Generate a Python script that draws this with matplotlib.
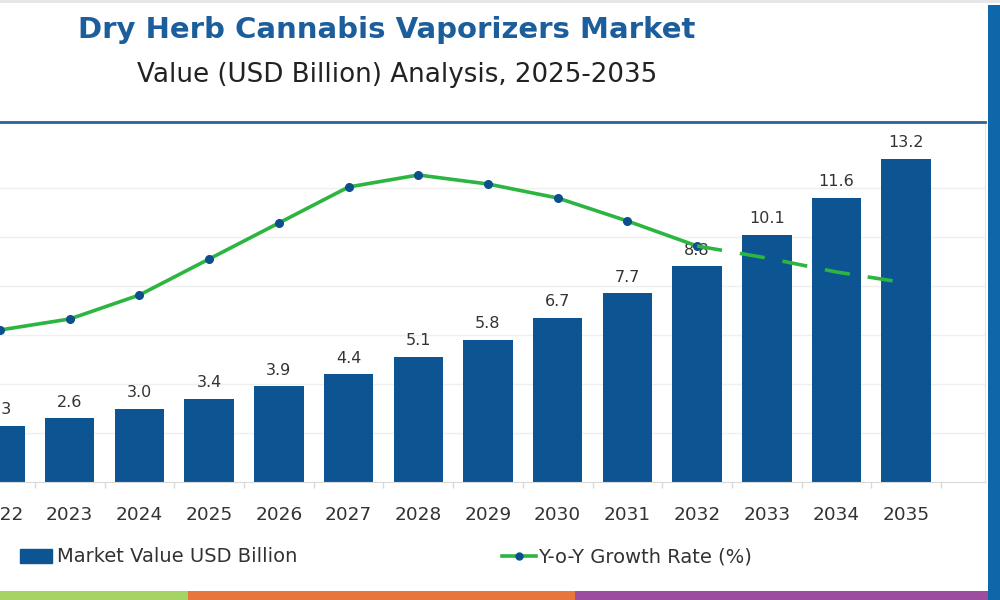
import matplotlib
matplotlib.use("Agg")
import matplotlib.pyplot as plt
from matplotlib.patches import Rectangle, Patch
from matplotlib.lines import Line2D

years = ["2022", "2023", "2024", "2025", "2026", "2027", "2028",
         "2029", "2030", "2031", "2032", "2033", "2034", "2035"]
market_value = [2.3, 2.6, 3.0, 3.4, 3.9, 4.4, 5.1, 5.8, 6.7, 7.7, 8.8, 10.1, 11.6, 13.2]
growth_rate = [7.6, 8.15, 9.35, 11.15, 12.95, 14.75, 15.35, 14.9, 14.2, 13.05, 11.8, 11.2, 10.5, 9.95]
solid_until = "2032"

title = "Dry Herb Cannabis Vaporizers Market"
subtitle = "Value (USD Billion) Analysis, 2025-2035"
legend_bar = "Market Value USD Billion"
legend_line = "Y-o-Y Growth Rate (%)"

BAR = "#0c5592"
TITLE_BLUE = "#1b5e9b"
GREEN = "#2cb540"
MARK = "#0d4f8c"
TXT = "#333333"

plt.rcParams['font.family'] = ['DejaVu Sans']

W, H = 1000, 600
fig = plt.figure(figsize=(10, 6), dpi=100)

def fx(px):
    return px / W

def fy(py):
    return 1 - py / H

# axes: left 0 px, right 985 px, top 122 px, baseline 482 px
ax = fig.add_axes([0, fy(482), fx(985), (482 - 122) / H])
x = list(range(len(years)))
ax.bar(x, market_value, width=0.71, color=BAR, zorder=2)
ax.set_xlim(0.043, 14.13)
ax.set_ylim(0, 360 / 24.5)
ax.set_yticks([2, 4, 6, 8, 10, 12])
ax.yaxis.grid(True, color="#efefef", linewidth=1, zorder=0)
ax.set_axisbelow(True)

ax2 = ax.twinx()
ax2.set_ylim(0, 360 / 20)
ax2.axis("off")

ax.tick_params(axis="y", which="both", left=False, right=False,
               labelleft=False, labelright=False)
ax.set_xticks(x)
ax.set_xticklabels(years, fontsize=13.3, color=TXT)
ax.tick_params(axis="x", length=0, pad=17)
ax.set_xticks([i + 0.5 for i in x], minor=True)
ax.tick_params(axis="x", which="minor", length=4, color="#d9d9d9", width=1)
ax.spines["left"].set_visible(False)
ax.spines["bottom"].set_color("#d9d9d9")
ax.spines["right"].set_color("#dfe6ee")
ax.spines["top"].set_color("#2a6496")
ax.spines["top"].set_linewidth(2)

for xi, v in zip(x, market_value):
    ax.text(xi, v + 0.35, f"{v:.1f}", ha="center", va="bottom",
            fontsize=11.5, color=TXT, zorder=3, clip_on=False)

k = years.index(solid_until)
ax2.plot(x[:k + 1], growth_rate[:k + 1], color=GREEN, linewidth=2.6,
         marker="o", markersize=5.5, markerfacecolor=MARK, markeredgecolor=MARK,
         zorder=5, solid_capstyle="round")
ax2.plot(x[k:], growth_rate[k:], color=GREEN, linewidth=2.6,
         linestyle=(0, (7, 5)), zorder=5)

# titles
fig.text(fx(387), fy(30), title, ha="center", va="center", fontsize=21,
         fontweight="bold", color=TITLE_BLUE)
fig.text(fx(397), fy(75), subtitle, ha="center", va="center", fontsize=18.8,
         color="#222222")

# legends
h1 = Patch(facecolor=BAR, edgecolor=BAR)
leg1 = fig.legend([h1], [legend_bar], loc="center left",
                  bbox_to_anchor=(fx(20), fy(557)), frameon=False,
                  fontsize=14, handlelength=1.65, handleheight=0.72,
                  handletextpad=0.25, borderaxespad=0, borderpad=0)
for t in leg1.get_texts():
    t.set_color(TXT)
h2 = Line2D([0], [0], color=GREEN, linewidth=2.6, marker="o", markersize=5,
            markerfacecolor=MARK, markeredgecolor=MARK)
leg2 = fig.legend([h2], [legend_line], loc="center left",
                  bbox_to_anchor=(fx(502), fy(557)), frameon=False,
                  fontsize=14, handlelength=1.75, handletextpad=0.12,
                  borderaxespad=0, borderpad=0)
for t in leg2.get_texts():
    t.set_color(TXT)

# decorations
fig.patches.append(Rectangle((fx(988), 0), fx(12), fy(5), transform=fig.transFigure,
                             facecolor="#0e67a8", edgecolor="none", zorder=0))
fig.patches.append(Rectangle((0, fy(3)), 1, 3 / H, transform=fig.transFigure,
                             facecolor="#e6e6e6", edgecolor="none", zorder=0))
stripes = [(0, 188, "#a5d465"), (188, 575, "#e8763c"), (575, 988, "#9c4d9f")]
for a, b, c in stripes:
    fig.patches.append(Rectangle((fx(a), 0), fx(b - a), 9 / H, transform=fig.transFigure,
                                 facecolor=c, edgecolor="none", zorder=0))

fig.savefig("out.png", dpi=100)
